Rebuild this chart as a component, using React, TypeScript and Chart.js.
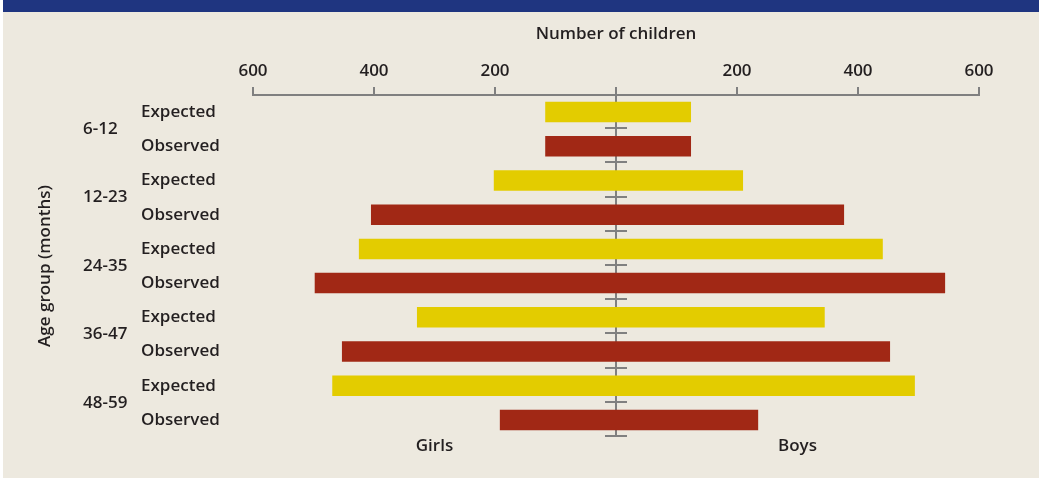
import React, { useEffect, useRef } from "react";
import { Chart, registerables } from "chart.js";

Chart.register(...registerables);

const rowLabels = ["Expected", "Observed", "Expected", "Observed", "Expected", "Observed", "Expected", "Observed", "Expected", "Observed"];
const ageGroups = ["6-12", "12-23", "24-35", "36-47", "48-59"];
const girls = [117, 117, 202, 405, 425, 498, 329, 453, 469, 192];
const boys = [124, 124, 210, 377, 441, 544, 345, 453, 494, 235];
const xTicks = [-600, -400, -200, 0, 200, 400, 600];
const sideLabels = ["Girls", "Boys"];
const sideLabelValues = [-300, 300];

const YELLOW = "#e3cc00";
const RED = "#a12815";
const GRAY = "#808080";
const TEXT = "#231f20";
const BG = "#ede9df";
const FONT = "'Open Sans', sans-serif";

const rowColors = rowLabels.map((l) => (l === "Expected" ? YELLOW : RED));

const decorPlugin = {
  id: "decor",
  beforeDatasetsDraw(chart: any) {
    const { ctx, chartArea } = chart;
    const xs = chart.scales.x;
    const ys = chart.scales.y;
    const x0 = xs.getPixelForValue(0);
    const yEnd = ys.getPixelForValue(rowLabels.length - 0.5);
    ctx.save();
    ctx.strokeStyle = GRAY;
    ctx.lineWidth = 2;
    ctx.beginPath();
    ctx.moveTo(x0, chartArea.top);
    ctx.lineTo(x0, yEnd);
    for (let i = 0; i < rowLabels.length; i++) {
      const y = Math.round(ys.getPixelForValue(i + 0.5)) - 1;
      ctx.moveTo(x0 - 11, y);
      ctx.lineTo(x0 + 11, y);
    }
    ctx.stroke();
    ctx.restore();
  },
  afterDraw(chart: any) {
    const { ctx, chartArea } = chart;
    const xs = chart.scales.x;
    const ys = chart.scales.y;
    ctx.save();
    ctx.fillStyle = TEXT;
    ctx.font = `600 17px ${FONT}`;
    ctx.textBaseline = "middle";
    ctx.textAlign = "left";
    ageGroups.forEach((g, k) => {
      ctx.fillText(g, 80, ys.getPixelForValue(2 * k + 0.5));
    });
    ctx.textAlign = "center";
    sideLabels.forEach((s, i) => {
      ctx.fillText(s, xs.getPixelForValue(sideLabelValues[i]), chartArea.bottom + 9);
    });
    ctx.translate(42, (chartArea.top + chartArea.bottom) / 2);
    ctx.rotate(-Math.PI / 2);
    ctx.fillText("Age group (months)", 0, 0);
    ctx.restore();
  },
};

export default function App() {
  const ref = useRef<HTMLCanvasElement>(null);

  useEffect(() => {
    document.body.style.margin = "0";
    const canvas = ref.current!;
    const chart = new Chart(canvas, {
      type: "bar",
      data: {
        labels: rowLabels,
        datasets: [
          {
            label: "Girls / Boys",
            data: girls.map((g, i) => [-g, boys[i]]),
            backgroundColor: rowColors,
            borderWidth: 0,
            borderSkipped: false,
            barPercentage: 0.6,
            categoryPercentage: 1,
          },
        ],
      },
      options: {
        indexAxis: "y",
        animation: false,
        responsive: false,
        maintainAspectRatio: false,
        layout: { padding: { left: 138, right: 60, top: 0, bottom: 41 } },
        plugins: {
          legend: { display: false },
          tooltip: { enabled: false },
          title: { display: false },
        },
        scales: {
          x: {
            type: "linear",
            position: "top",
            min: -600,
            max: 600,
            afterBuildTicks: (scale: any) => {
              scale.ticks = xTicks.map((v) => ({ value: v }));
            },
            afterFit: (scale: any) => {
              scale.height = 83;
            },
            ticks: {
              callback: (v: any) => (Number(v) === 0 ? "" : String(Math.abs(Number(v)))),
              color: TEXT,
              font: { family: FONT, size: 17, weight: "600" },
              padding: 6,
              maxRotation: 0,
              autoSkip: false,
            },
            grid: {
              drawOnChartArea: false,
              drawTicks: true,
              tickLength: 8,
              color: GRAY,
              lineWidth: 2,
            },
            border: { display: true, color: GRAY, width: 2 },
            title: {
              display: true,
              text: "Number of children",
              color: TEXT,
              font: { family: FONT, size: 17, weight: "600" },
              padding: { top: 12, bottom: 0 },
            },
          },
          y: {
            type: "category",
            afterFit: (scale: any) => {
              scale.width = 112;
            },
            ticks: {
              crossAlign: "far",
              color: TEXT,
              font: { family: FONT, size: 17, weight: "600" },
              autoSkip: false,
            },
            grid: { display: false, drawTicks: false },
            border: { display: false },
          },
        },
      },
      plugins: [decorPlugin],
    } as any);
    return () => chart.destroy();
  }, []);

  return (
    <div style={{ position: "relative", width: 1039, height: 479, background: "#ffffff", overflow: "hidden" }}>
      <div style={{ position: "absolute", left: 3, top: 0, width: 1036, height: 12, background: "#1f3580" }} />
      <div style={{ position: "absolute", left: 3, top: 12, width: 1036, height: 466, background: BG }}>
        <canvas ref={ref} width={1036} height={466} style={{ display: "block" }} />
      </div>
    </div>
  );
}
